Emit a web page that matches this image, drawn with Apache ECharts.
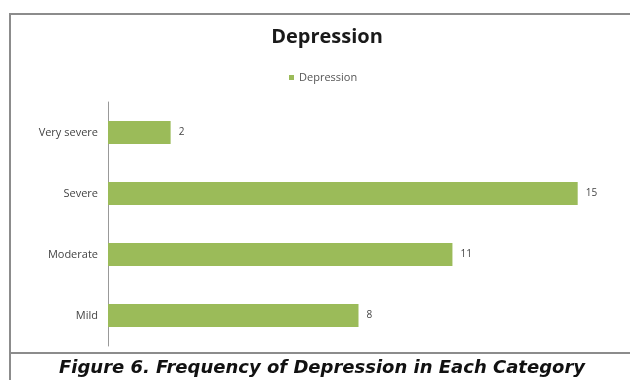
<!DOCTYPE html>
<html><head><meta charset="utf-8">
<script src="https://cdn.jsdelivr.net/npm/echarts@6/dist/echarts.min.js"></script>
<style>html,body{margin:0;padding:0;background:#fff}#c{width:630px;height:380px}</style>
</head><body><div id="c"></div>
<script>
const categories = ['Mild', 'Moderate', 'Severe', 'Very severe'];
const values = [8, 11, 15, 2];
const seriesName = 'Depression';
const titleText = 'Depression';
const captionText = 'Figure 6. Frequency of Depression in Each Category';

const chart = echarts.init(document.getElementById('c'), null, {renderer: 'canvas'});
chart.setOption({
  animation: false,
  backgroundColor: '#fff',
  title: {
    text: titleText, left: 322, textAlign: 'center', top: 22,
    textStyle: {fontFamily: 'Open Sans', fontWeight: 'bold', fontSize: 20, color: '#1a1a1a'}
  },
  legend: {
    data: [seriesName], top: 67, left: 284,
    itemWidth: 5, itemHeight: 5, itemGap: 4, icon: 'rect',
    textStyle: {fontFamily: 'Open Sans', fontSize: 11, color: '#555'}
  },
  grid: {left: 108, top: 102, width: 501, height: 244, containLabel: false},
  xAxis: {
    type: 'value', min: 0, max: 16, show: false
  },
  yAxis: {
    type: 'category', data: categories,
    axisLine: {show: true, lineStyle: {color: '#999', width: 1}},
    axisTick: {show: false},
    axisLabel: {margin: 10, fontFamily: 'Open Sans', fontSize: 11, color: '#444'}
  },
  series: [{
    name: seriesName, type: 'bar', data: values, barCategoryGap: '62%',
    itemStyle: {color: '#9bbb59'},
    label: {show: true, position: 'right', distance: 8, fontFamily: 'Open Sans', fontSize: 10, color: '#444'}
  }],
  graphic: [
    {type: 'rect', shape: {x: 10, y: 14, width: 640, height: 339}, style: {fill: 'none', stroke: '#8c8c8c', lineWidth: 2}},
    {type: 'line', shape: {x1: 10, y1: 353, x2: 10, y2: 380}, style: {stroke: '#8c8c8c', lineWidth: 2}},
    {type: 'text', x: 322, y: 368, style: {text: captionText, align: 'center', verticalAlign: 'middle', fontFamily: 'DejaVu Sans', fontStyle: 'italic', fontWeight: 'bold', fontSize: 18, fill: '#111'}}
  ]
});
</script></body></html>
